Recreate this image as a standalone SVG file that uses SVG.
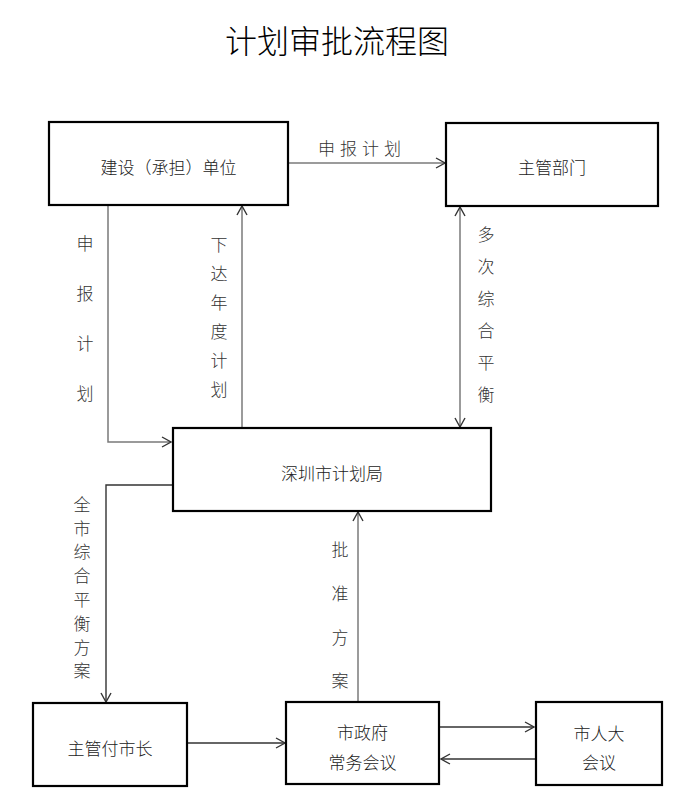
<svg xmlns="http://www.w3.org/2000/svg" width="696" height="790" viewBox="0 0 696 790">
<style>
  .box { fill: #ffffff; stroke: #000000; stroke-width: 2.2; }
  .t { font-family: "Noto Sans CJK SC", "Noto Sans", sans-serif; font-size: 17px; font-weight: 300; fill: #222222; text-anchor: middle; dominant-baseline: central; }
  .lbl { font-family: "Noto Sans CJK SC", "Noto Sans", sans-serif; font-size: 17px; font-weight: 300; fill: #333333; text-anchor: middle; dominant-baseline: central; }
  .title { font-family: "Noto Sans CJK SC", "Noto Sans", sans-serif; font-size: 32px; font-weight: 300; fill: #000000; text-anchor: middle; dominant-baseline: central; }
  .ln { fill: none; stroke: #7a7a7a; stroke-width: 1.5; }
  .ln2 { fill: none; stroke: #333333; stroke-width: 1.4; }
</style>
<defs>
  <marker id="ah" markerUnits="userSpaceOnUse" markerWidth="12" markerHeight="12" viewBox="0 0 12 12" refX="11" refY="6" orient="auto-start-reverse">
    <path d="M2,1 L11,6 L2,11" fill="none" stroke="#333333" stroke-width="1.4"/>
  </marker>
</defs>
<rect width="696" height="790" fill="#ffffff"/>
<text class="title" x="337" y="39">计划审批流程图</text>

<g id="connectors">
  <path class="ln" d="M288,163 H445" marker-end="url(#ah)"/>
  <path class="ln" d="M108,205 V442 H171" marker-end="url(#ah)"/>
  <path class="ln" d="M242,428 V206" marker-end="url(#ah)"/>
  <path class="ln" d="M460,207 V427" marker-start="url(#ah)" marker-end="url(#ah)"/>
  <path class="ln2" d="M173,485 H106 V702" marker-end="url(#ah)"/>
  <path class="ln" d="M358,702 V512" marker-end="url(#ah)"/>
  <path class="ln2" d="M187,743 H285" marker-end="url(#ah)"/>
  <path class="ln2" d="M439,727 H534" marker-end="url(#ah)"/>
  <path class="ln2" d="M536,759 H441" marker-end="url(#ah)"/>

  <text class="lbl" x="362" y="147" letter-spacing="5">申报计划</text>
  <g>
    <text class="lbl" x="85" y="242">申</text>
    <text class="lbl" x="85" y="292">报</text>
    <text class="lbl" x="85" y="342">计</text>
    <text class="lbl" x="85" y="392">划</text>
  </g>
  <g>
    <text class="lbl" x="219" y="243">下</text>
    <text class="lbl" x="219" y="272">达</text>
    <text class="lbl" x="219" y="301">年</text>
    <text class="lbl" x="219" y="330">度</text>
    <text class="lbl" x="219" y="359">计</text>
    <text class="lbl" x="219" y="388">划</text>
  </g>
  <g>
    <text class="lbl" x="486" y="233">多</text>
    <text class="lbl" x="486" y="265">次</text>
    <text class="lbl" x="486" y="297">综</text>
    <text class="lbl" x="486" y="329">合</text>
    <text class="lbl" x="486" y="361">平</text>
    <text class="lbl" x="486" y="393">衡</text>
  </g>
  <g>
    <text class="lbl" x="82" y="503">全</text>
    <text class="lbl" x="82" y="527">市</text>
    <text class="lbl" x="82" y="550">综</text>
    <text class="lbl" x="82" y="574">合</text>
    <text class="lbl" x="82" y="598">平</text>
    <text class="lbl" x="82" y="622">衡</text>
    <text class="lbl" x="82" y="646">方</text>
    <text class="lbl" x="82" y="669">案</text>
  </g>
  <g>
    <text class="lbl" x="340" y="548">批</text>
    <text class="lbl" x="340" y="592">准</text>
    <text class="lbl" x="340" y="636">方</text>
    <text class="lbl" x="340" y="679">案</text>
  </g>
</g>

<g id="node-jianshe">
  <rect class="box" x="49" y="122" width="239" height="83"/>
  <text class="t" x="168.5" y="166">建设（承担）单位</text>
</g>
<g id="node-zhuguan">
  <rect class="box" x="446" y="123" width="212" height="83"/>
  <text class="t" x="552" y="166">主管部门</text>
</g>
<g id="node-jihuaju">
  <rect class="box" x="173" y="428" width="318" height="83"/>
  <text class="t" x="332" y="472">深圳市计划局</text>
</g>
<g id="node-fushizhang">
  <rect class="box" x="33" y="703" width="154" height="83"/>
  <text class="t" x="110" y="747">主管付市长</text>
</g>
<g id="node-changwu">
  <rect class="box" x="286" y="702" width="153" height="82"/>
  <text class="t" x="362.5" y="731">市政府</text>
  <text class="t" x="362.5" y="761">常务会议</text>
</g>
<g id="node-renda">
  <rect class="box" x="536" y="702" width="126" height="83"/>
  <text class="t" x="599" y="732">市人大</text>
  <text class="t" x="599" y="761">会议</text>
</g>
</svg>
